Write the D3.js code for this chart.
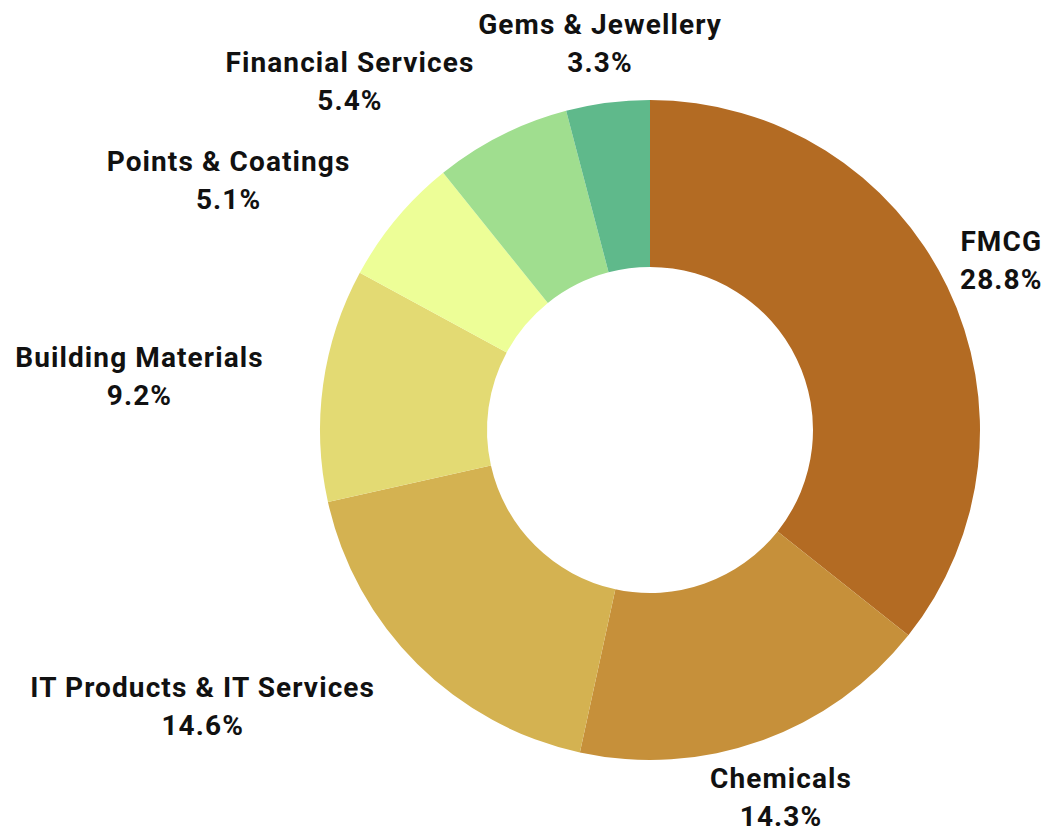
<!DOCTYPE html>
<html>
<head>
<meta charset="utf-8">
<script src="https://cdn.jsdelivr.net/npm/d3@7"></script>
<style>
  html, body { margin: 0; padding: 0; background: #ffffff; }
  svg text { font-family: Roboto, Lato, sans-serif; font-weight: 700; fill: #111111; letter-spacing: 1.1px; }
</style>
</head>
<body>
<svg id="chart" width="1048" height="833"></svg>
<script>
// Sector allocation shares (%), clockwise from 12 o'clock
const sectors = ["FMCG", "Chemicals", "IT Products & IT Services", "Building Materials",
                 "Points & Coatings", "Financial Services", "Gems & Jewellery"];
const shares = [28.8, 14.3, 14.6, 9.2, 5.1, 5.4, 3.3];
const colors = ["#B36B23", "#C6903A", "#D4B251", "#E3DA73", "#EDFE97", "#A0DE8F", "#5FB98B"];

const width = 1048, height = 833;
const cx = 650, cy = 430;
const outerR = 330, innerR = 163, labelR = 390;
const fontSize = 28, lineGap = 38;

const svg = d3.select("#chart");
const g = svg.append("g").attr("transform", `translate(${cx},${cy})`);

const data = sectors.map((name, i) => ({ name, value: shares[i], color: colors[i] }));

const pie = d3.pie().value(d => d.value).sort(null);
const arc = d3.arc().innerRadius(innerR).outerRadius(outerR);
const labelArc = d3.arc().innerRadius(labelR).outerRadius(labelR);

const arcs = pie(data);

g.selectAll("path.slice")
  .data(arcs)
  .join("path")
  .attr("class", "slice")
  .attr("d", arc)
  .attr("fill", d => d.data.color);

// Labels: name + percentage, two centred lines
const labels = g.selectAll("g.label")
  .data(arcs)
  .join("g")
  .attr("class", "label");

labels.each(function(d) {
  const [x, y] = labelArc.centroid(d);
  const grp = d3.select(this);
  const t1 = grp.append("text")
    .attr("text-anchor", "middle")
    .attr("font-size", fontSize)
    .attr("y", -9.5)
    .text(d.data.name);
  const t2 = grp.append("text")
    .attr("text-anchor", "middle")
    .attr("font-size", fontSize)
    .attr("y", -9.5 + lineGap)
    .text(d3.format(".1f")(d.data.value) + "%");
  const w = Math.max(t1.node().getComputedTextLength(), t2.node().getComputedTextLength());
  const mid = (d.startAngle + d.endAngle) / 2 * 180 / Math.PI;
  // On the left flank the label block ends at the anchor point
  const shift = (mid > 200 && mid < 340) ? -w / 2 : 0;
  grp.attr("transform", `translate(${x + shift},${y})`);
});
</script>
</body>
</html>
